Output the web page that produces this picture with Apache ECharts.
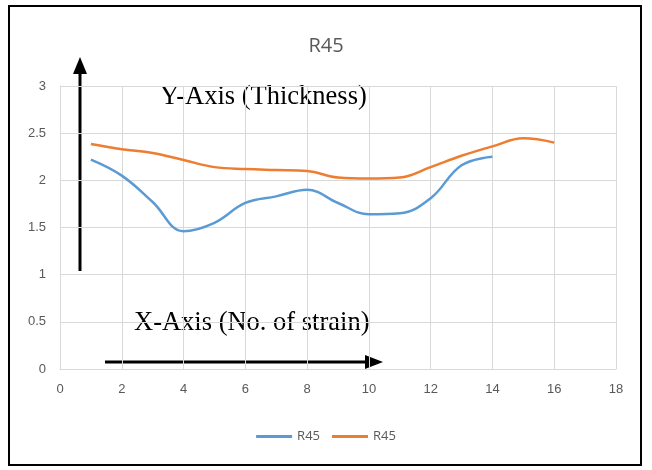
<!DOCTYPE html>
<html>
<head>
<meta charset="utf-8">
<script src="https://cdn.jsdelivr.net/npm/echarts@6/dist/echarts.min.js"></script>
<style>
  html, body { margin: 0; padding: 0; background: #fff; }
  #chart { width: 652px; height: 470px; }
</style>
</head>
<body>
<div id="chart"></div>
<script>
const strainA = [1, 2, 3, 4, 5, 6, 7, 8, 9, 10, 11, 12, 13, 14]
const thicknessA = [2.22, 2.05, 1.77, 1.46, 1.55, 1.76, 1.83, 1.9, 1.76, 1.64, 1.65, 1.81, 2.16, 2.25]
const strainB = [1, 2, 3, 4, 5, 6, 7, 8, 9, 10, 11, 12, 13, 14, 15, 16]
const thicknessB = [2.385, 2.33, 2.29, 2.215, 2.14, 2.12, 2.11, 2.1, 2.03, 2.02, 2.03, 2.14, 2.26, 2.36, 2.445, 2.4]

const grey = '#595959'
const chart = echarts.init(document.getElementById('chart'))

chart.setOption({
  animation: false,
  title: {
    text: 'R45', left: 'center', top: 31,
    textStyle: { color: grey, fontSize: 20, fontWeight: 'normal', fontFamily: '"Open Sans", sans-serif' }
  },
  legend: {
    bottom: 22, left: 'center', itemWidth: 36, itemHeight: 3, itemGap: 12,
    icon: 'rect',
    textStyle: { color: grey, fontSize: 13, fontFamily: '"Open Sans", sans-serif' },
    data: [{ name: 'R45' }, { name: 'R45 ' }],
    formatter: n => n.trim()
  },
  grid: { left: 60, right: 36, top: 86, bottom: 101 },
  xAxis: {
    type: 'value', min: 0, max: 18, interval: 2,
    axisLine: { show: true, lineStyle: { color: '#d9d9d9' } },
    axisTick: { show: false },
    axisLabel: { color: grey, fontSize: 13, margin: 14 },
    splitLine: { lineStyle: { color: '#d9d9d9' } }
  },
  yAxis: {
    type: 'value', min: 0, max: 3, interval: 0.5,
    axisLine: { show: true, lineStyle: { color: '#d9d9d9' } },
    axisTick: { show: false },
    axisLabel: { color: grey, fontSize: 13, margin: 14 },
    splitLine: { lineStyle: { color: '#d9d9d9' } }
  },
  series: [
    {
      name: 'R45', type: 'line', smooth: 0.4, showSymbol: false,
      data: strainA.map((x, i) => [x, thicknessA[i]]),
      lineStyle: { color: '#5b9bd5', width: 2.5 }, itemStyle: { color: '#5b9bd5' }
    },
    {
      name: 'R45 ', type: 'line', smooth: 0.4, showSymbol: false,
      data: strainB.map((x, i) => [x, thicknessB[i]]),
      lineStyle: { color: '#ed7d31', width: 2.5 }, itemStyle: { color: '#ed7d31' }
    }
  ],
  graphic: [
    { type: 'rect', shape: { x: 9, y: 6, width: 632, height: 459 }, style: { fill: 'none', stroke: '#000', lineWidth: 2 } },
    { type: 'line', shape: { x1: 80, y1: 271, x2: 80, y2: 70 }, style: { stroke: '#000', lineWidth: 3 } },
    { type: 'polygon', shape: { points: [[73, 74], [87, 74], [80, 57]] }, style: { fill: '#000' } },
    { type: 'line', shape: { x1: 105, y1: 362, x2: 368, y2: 362 }, style: { stroke: '#000', lineWidth: 3 } },
    { type: 'polygon', shape: { points: [[365, 355], [365, 369], [383, 362]] }, style: { fill: '#000' } },
    { type: 'text', left: 160, top: 84, style: { text: 'Y-Axis (Thickness)', fill: '#000', font: '26.5px "Liberation Serif", serif' } },
    { type: 'text', left: 134, top: 310, style: { text: 'X-Axis (No. of strain)', fill: '#000', font: '26.5px "Liberation Serif", serif' } }
  ]
})
</script>
</body>
</html>
